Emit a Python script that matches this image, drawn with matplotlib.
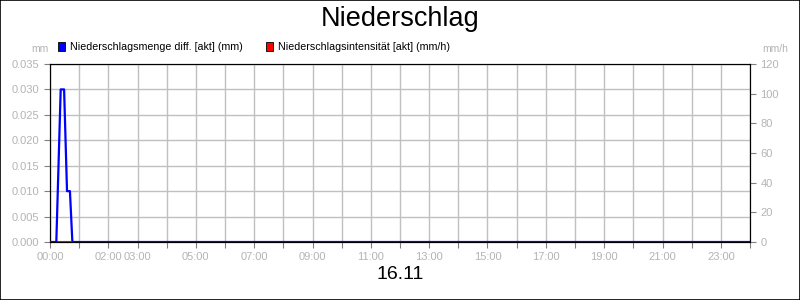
import numpy as np
import matplotlib
matplotlib.use('Agg')
import matplotlib.pyplot as plt
from matplotlib.patches import Rectangle

plt.rcParams['font.family'] = ['Liberation Sans', 'DejaVu Sans']

# precipitation amount (mm), time in minutes after 00:00
menge_min = [0, 13, 22, 29, 35, 41, 46, 1440]
menge_mm = [0.0, 0.0, 0.030, 0.030, 0.010, 0.010, 0.0, 0.0]
# precipitation intensity (mm/h)
int_min = [13, 41]
int_mmh = [0.0, 0.0]

label_hours = [0, 2, 3, 5, 7, 9, 11, 13, 15, 17, 19, 21, 23]
tick_hours = [0, 1, 4, 6, 8, 10, 12, 14, 16, 18, 20, 22, 24]

grey = '#b4b4b4'
fig = plt.figure(figsize=(8, 3), dpi=100)
ax = fig.add_axes([0.0625, 0.1933, 0.875, 0.5934])
ax2 = ax.twinx()

ax.set_xlim(0, 24)
ax.set_ylim(0, 0.035)
ax2.set_ylim(0, 120)

ax.set_xticks(range(25))
ax.grid(True, color='#c0c0c0', linewidth=1)
ax.set_yticks(np.arange(0, 0.0351, 0.005))
ax.set_yticklabels([f'{v:.3f}' for v in np.arange(0, 0.0351, 0.005)])
ax.tick_params(axis='x', which='major', length=0, pad=3)
ax.set_xticklabels(['%02d:00' % h if h in label_hours else '' for h in range(25)])
ax.set_xticks(tick_hours, minor=True)
ax.tick_params(axis='x', which='minor', length=4, color='#808080')
ax.tick_params(axis='both', labelsize=8, labelcolor=grey, color='#808080', length=4)
ax2.set_yticks(range(0, 121, 20))
ax2.tick_params(axis='y', labelsize=8, labelcolor=grey, color='#808080', length=4)

ax2.plot(np.array(int_min) / 60, int_mmh, color='red', linewidth=1.5, zorder=2)
ax2.plot(np.array(menge_min) / 60, np.array(menge_mm) * 120 / 0.035, color='blue',
         linewidth=1.6, zorder=3)

for s in ax.spines.values():
    s.set_color('black')
for s in ax2.spines.values():
    s.set_color('black')

fig.text(0.5, 0.935, 'Niederschlag', ha='center', va='center', fontsize=19.5)
fig.text(0.5, 0.085, '16.11', ha='center', va='center', fontsize=14)
fig.text(0.061, 0.835, 'mm', ha='right', va='center', fontsize=7.5, color=grey)
fig.text(0.953, 0.835, 'mm/h', ha='left', va='center', fontsize=7.5, color=grey)

fig.patches.append(Rectangle((0.0725, 0.83), 0.009, 0.03, facecolor='blue',
                             edgecolor='black', linewidth=0.6, transform=fig.transFigure))
fig.text(0.087, 0.845, 'Niederschlagsmenge diff. [akt] (mm)', va='center', fontsize=7.7)
fig.patches.append(Rectangle((0.3325, 0.83), 0.009, 0.03, facecolor='red',
                             edgecolor='black', linewidth=0.6, transform=fig.transFigure))
fig.text(0.347, 0.845, 'Niederschlagsintensität [akt] (mm/h)', va='center', fontsize=7.7)

fig.patches.append(Rectangle((0, 0), 1, 1, facecolor='none', edgecolor='black',
                             linewidth=1.2, transform=fig.transFigure))

plt.savefig('out.png', dpi=100)
plt.close()
